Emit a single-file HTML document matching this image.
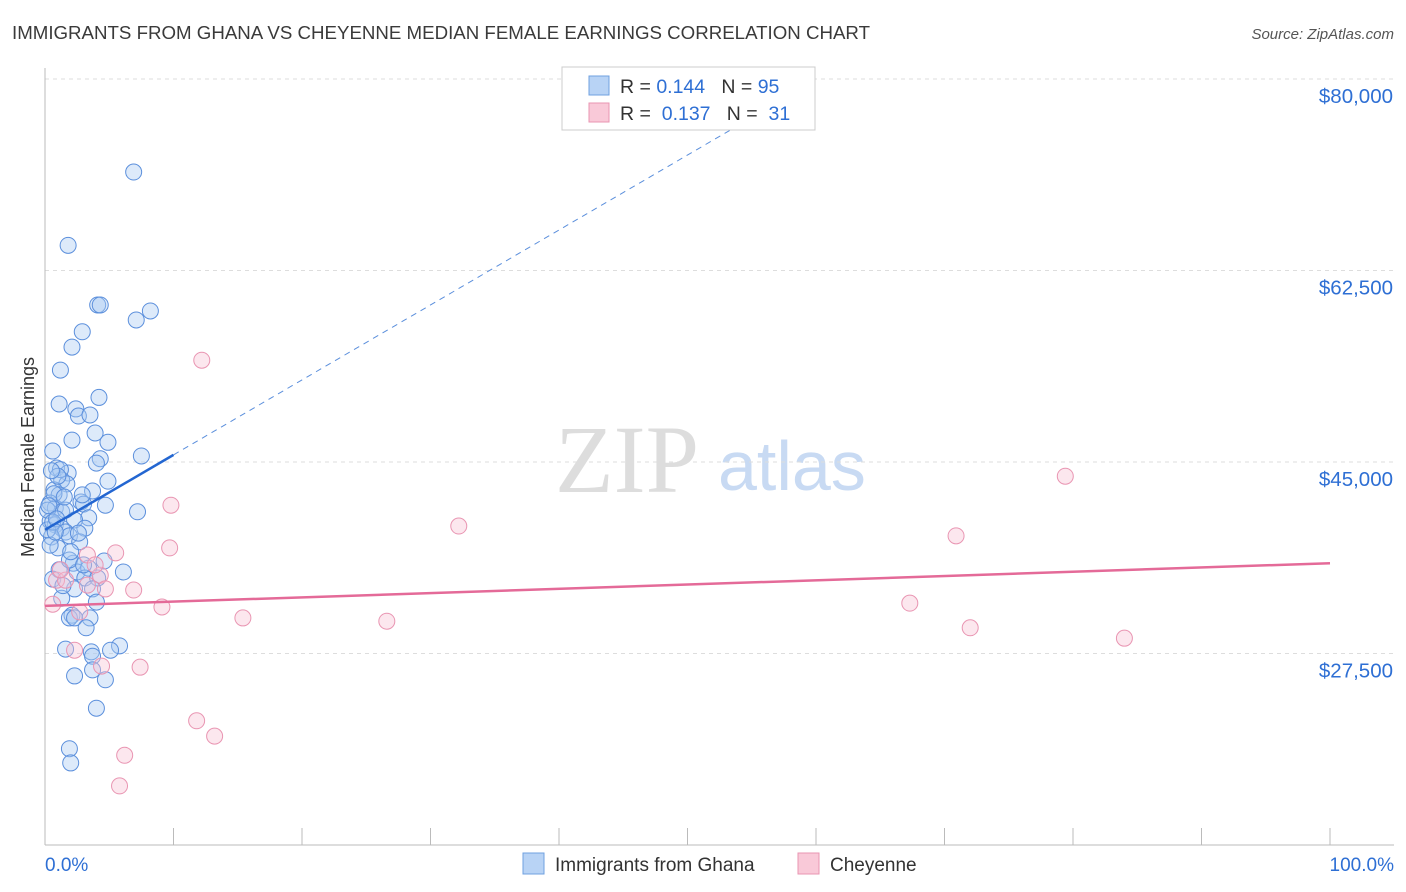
<!DOCTYPE html>
<html><head><meta charset="utf-8"><style>
body{margin:0;background:#fff;font-family:"Liberation Sans",sans-serif;}
svg{display:block}
</style></head><body>
<svg id="chart" width="1406" height="892">
<text x="12" y="39" font-size="18.7" fill="#3a3a3a">IMMIGRANTS FROM GHANA VS CHEYENNE MEDIAN FEMALE EARNINGS CORRELATION CHART</text>
<text x="1394" y="39" font-size="15" fill="#555" text-anchor="end" font-style="italic">Source: ZipAtlas.com</text>
<text x="0" y="0" transform="translate(34,457) rotate(-90)" font-size="18" fill="#333" text-anchor="middle">Median Female Earnings</text>
<text x="555" y="492" font-size="96" fill="#ddd" font-family="Liberation Serif,serif">ZIP</text>
<text x="718" y="490" font-size="70" fill="#c8daf3">atlas</text>
<g id="grid"></g><g id="pts"></g><g id="lines"></g>
<g>
<rect x="562" y="67" width="253" height="63" fill="#fff" stroke="#ccc"/>
<rect x="589" y="76" width="20" height="19" fill="#b8d3f5" stroke="#6fa0e0"/>
<rect x="589" y="103" width="20" height="19" fill="#f9c9d8" stroke="#e995b2"/>
<text x="620" y="93" font-size="19.5" fill="#333">R = <tspan fill="#2e6fd4">0.144</tspan>&#160;&#160;&#160;N = <tspan fill="#2e6fd4">95</tspan></text>
<text x="620" y="120" font-size="19.5" fill="#333">R = &#160;<tspan fill="#2e6fd4">0.137</tspan>&#160;&#160;&#160;N = &#160;<tspan fill="#2e6fd4">31</tspan></text>
</g>
<g>
<rect x="523" y="853" width="21" height="21" fill="#b8d3f5" stroke="#6fa0e0"/>
<text x="555" y="871" font-size="19" fill="#333">Immigrants from Ghana</text>
<rect x="798" y="853" width="21" height="21" fill="#f9c9d8" stroke="#e995b2"/>
<text x="830" y="871" font-size="19" fill="#333">Cheyenne</text>
</g>
<text x="45" y="871" font-size="19" fill="#2e6fd4">0.0%</text>
<text x="1394" y="871" font-size="19" fill="#2e6fd4" text-anchor="end">100.0%</text>
</svg>
<script>
const yTicks=[80000,62500,45000,27500];
const yTickLabels=["$80,000","$62,500","$45,000","$27,500"];
const xTicks=[0,10,20,30,40,50,60,70,80,90,100];
const ghanaX=[6.9,1.8,4.1,4.3,7.1,8.2,2.9,2.1,1.2,4.2,1.1,2.4,2.6,3.5,3.9,2.1,4.9,0.6,7.5,4.3,4.0,0.9,1.8,4.9,1.3,1.7,0.7,1.1,3.7,2.8,3.0,4.7,7.2,0.4,0.8,1.3,3.4,2.3,0.4,0.8,1.3,3.1,1.6,1.9,0.5,2.7,1.0,4.6,2.2,1.1,2.5,3.4,6.1,0.6,3.1,4.1,3.7,2.3,1.3,4.0,2.1,1.9,2.3,3.5,3.2,5.8,1.6,5.1,3.6,3.7,3.7,2.3,4.7,4.0,1.9,2.0,0.4,0.7,1.2,0.2,0.2,1.6,1.9,0.3,0.6,1.0,2.6,0.9,3.0,1.5,0.5,2.0,1.4,0.8,2.9];
const ghanaV=[71500,64800,59350,59350,57980,58800,56900,55500,53400,50900,50300,49850,49200,49300,47650,47000,46800,46000,45550,45300,44900,44450,44000,43250,43350,43000,42450,42000,42350,41350,41150,41050,40450,41250,40800,40450,39900,39700,39600,39250,38950,38950,38600,38250,38150,37700,37150,35950,35750,35150,34950,35300,34950,34300,34400,34400,33400,33400,32550,32200,31000,30750,30750,30750,29850,28200,27900,27800,27650,27250,26000,25450,25100,22500,18800,17500,37400,42100,44300,40600,38800,40600,36050,41000,39500,43700,38500,39800,35600,41800,44200,36800,33700,38600,42000];
const cheyX=[12.2,79.4,9.8,32.2,70.9,9.7,5.5,3.3,4.3,0.9,1.6,6.9,4.7,3.3,67.3,9.1,0.6,15.4,26.6,72.0,84.0,2.3,4.4,7.4,11.8,13.2,6.2,5.8,1.2,3.9,2.7];
const cheyV=[54300,43700,41050,39150,38250,37150,36700,36500,34650,34200,34200,33300,33400,33750,32100,31750,32000,30750,30450,29850,28900,27800,26350,26250,21350,19950,18200,15400,35150,35600,31300];
const ghanaTrend=[38800,45650];
const cheyTrend=[31850,35750];
const NS='http://www.w3.org/2000/svg';
const X=p=>45+p*12.85;
const Y=v=>79+(80000-v)*191.5/17500;
function mk(t,a,parent){const e=document.createElementNS(NS,t);for(const k in a)e.setAttribute(k,a[k]);document.getElementById(parent).appendChild(e);return e;}
yTicks.forEach((t,i)=>{
 const g=mk('line',{x1:45,x2:1394,y1:Y(t),y2:Y(t),stroke:'#ddd','stroke-dasharray':'4,4'},'grid');
 
 
 const l=mk('text',{x:1393,y:Y(t)+24,'font-size':20.5,fill:'#2e6fd4','text-anchor':'end'},'grid');
 l.textContent=yTickLabels[i];
 
 
});
const ax=mk('line',{x1:45,x2:45,y1:68,y2:845,stroke:'#bbb'},'grid');


const bx=mk('line',{x1:45,x2:1394,y1:845,y2:845,stroke:'#bbb'},'grid');


xTicks.forEach(t=>{
 const tk=mk('line',{x1:X(t),x2:X(t),y1:828,y2:845,stroke:'#bbb'},'grid');
 
 
});
ghanaX.forEach((x,i)=>{
 const c=mk('circle',{cx:X(x),cy:Y(ghanaV[i]),r:8,fill:'rgba(170,202,242,0.4)',stroke:'#5b8fdc','stroke-width':1},'pts');
 
 
});
cheyX.forEach((x,i)=>{
 const c=mk('circle',{cx:X(x),cy:Y(cheyV[i]),r:8,fill:'rgba(248,195,213,0.4)',stroke:'#e995b2','stroke-width':1},'pts');
 
 
});
const slope=(ghanaTrend[1]-ghanaTrend[0])/10;
const xEnd=(78000-ghanaTrend[0])/slope;
const d=mk('line',{x1:X(10),y1:Y(ghanaTrend[1]),x2:X(xEnd),y2:Y(78000),stroke:'#5b8fdc','stroke-width':1,'stroke-dasharray':'6,5'},'lines');


const s=mk('line',{x1:X(0),y1:Y(ghanaTrend[0]),x2:X(10),y2:Y(ghanaTrend[1]),stroke:'#2366d1','stroke-width':2.5},'lines');


const p=mk('line',{x1:X(0),y1:Y(cheyTrend[0]),x2:X(100),y2:Y(cheyTrend[1]),stroke:'#e46a98','stroke-width':2.5},'lines');


</script>
</body></html>
